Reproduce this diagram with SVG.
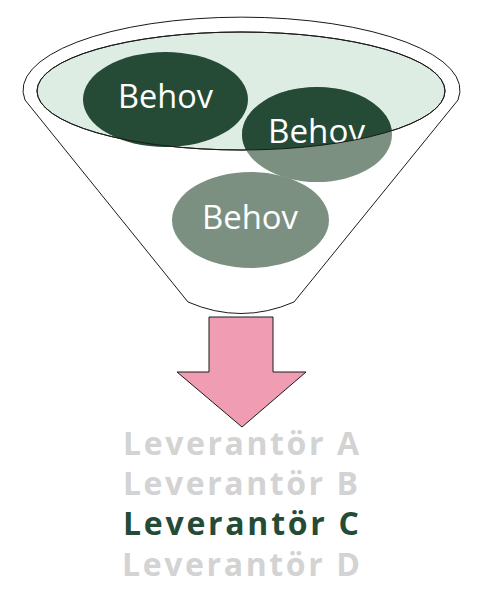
<svg xmlns="http://www.w3.org/2000/svg" width="479" height="612" viewBox="0 0 479 612">
<style>
.ln{stroke:#1a1a1a;stroke-width:1;}
.bt{font-family:"Open Sans","Noto Sans",sans-serif;font-size:32px;fill:#ffffff;text-anchor:middle;}
.lv{font-family:"Open Sans","Noto Sans",sans-serif;font-size:32px;font-weight:bold;}
.dark{fill:#254b37;}
.muted{fill:#7c9082;}
</style>
<defs>
<clipPath id="inner"><ellipse cx="241" cy="91" rx="204" ry="59"/></clipPath>
</defs>
<rect width="479" height="612" fill="#ffffff"/>
<g id="funnel">
<path class="ln" fill="#ffffff" d="M25,100 A218.5,73 0 1 1 458,100 L294,302 Q241,325 188,302 Z"/>
<ellipse class="ln" cx="241" cy="91" rx="204" ry="59" fill="#deede4"/>
</g>
<g id="behov1">
<ellipse class="dark" cx="165.5" cy="99.5" rx="82.5" ry="47.5"/>
<text class="bt" x="165.5" y="108" textLength="95" lengthAdjust="spacingAndGlyphs">Behov</text>
</g>
<g id="behov3">
<ellipse class="muted" cx="250.5" cy="220" rx="78.5" ry="48"/>
<text class="bt" x="250" y="229" textLength="96" lengthAdjust="spacingAndGlyphs">Behov</text>
</g>
<g id="behov2">
<ellipse class="muted" cx="317" cy="134.5" rx="75" ry="47.5"/>
<g clip-path="url(#inner)">
<ellipse class="dark" cx="317" cy="134.5" rx="75" ry="47.5"/>
<text class="bt" x="316.5" y="143" textLength="97" lengthAdjust="spacingAndGlyphs">Behov</text>
</g>
</g>
<g id="innerline">
<ellipse class="ln" cx="241" cy="91" rx="204" ry="59" fill="none"/>
</g>
<g id="connectors">
<path class="ln" fill="#f09db4" d="M209,317 L273,317 L273,372 L306,372 L242,427 L177,372 L209,372 Z"/>
</g>
<g id="suppliers">
<text class="lv" x="123" y="455" textLength="236" lengthAdjust="spacing" fill="#d3d3d3">Leverantör A</text>
<text class="lv" x="123" y="495" textLength="235" lengthAdjust="spacing" fill="#d3d3d3">Leverantör B</text>
<text class="lv" x="123" y="535" textLength="236" lengthAdjust="spacing" fill="#254b37">Leverantör C</text>
<text class="lv" x="122" y="576" textLength="238" lengthAdjust="spacing" fill="#d3d3d3">Leverantör D</text>
</g>
</svg>
